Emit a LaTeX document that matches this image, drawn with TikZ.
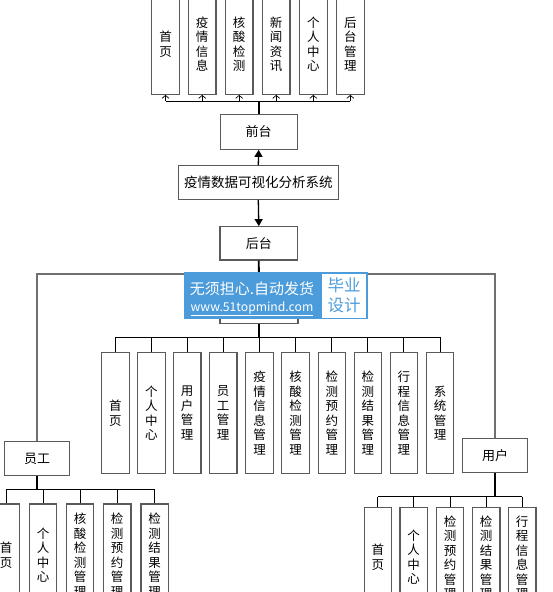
\documentclass[tikz,border=0pt]{standalone}
\usepackage{fontspec}
\newfontfamily\cjk{Noto Sans CJK SC}
\usetikzlibrary{arrows.meta}
\definecolor{boxc}{HTML}{5A5A5A}
\definecolor{outc}{HTML}{707070}
\definecolor{wmblue}{HTML}{4C9CDB}
\begin{document}
\begin{tikzpicture}[x=1pt,y=-1pt,
  box/.style={draw=boxc, line width=1.1pt, fill=white, inner sep=0pt, align=center,
    font=\cjk\fontsize{12.5}{14.5}\selectfont},
  vbox/.style={box, minimum width=27.5pt},
  hbox/.style={box, font=\cjk\fontsize{13}{15}\selectfont},
  conn/.style={draw=black, line width=0.9pt},
  thickconn/.style={draw=black, line width=1.8pt},
  outer/.style={draw=outc, line width=1.4pt},
  uparrow/.style={conn, -{Straight Barb[length=3pt,width=7pt,line width=0.7pt]}},
  mainarrow/.style={draw=black, line width=1.3pt, -{Triangle[length=7pt,width=8pt]}}
]
\useasboundingbox (0,0) rectangle (552,592);

% ---- top row
\node[vbox, minimum height=100.3pt] (t1) at (165.5,44.2) {首\\页};
\node[vbox, minimum height=100.3pt] (t2) at (202.2,44.2) {疫\\情\\信\\息};
\node[vbox, minimum height=100.3pt] (t3) at (239.2,44.2) {核\\酸\\检\\测};
\node[vbox, minimum height=100.3pt] (t4) at (276.2,44.2) {新\\闻\\资\\讯};
\node[vbox, minimum height=100.3pt] (t5) at (313.3,44.2) {个\\人\\中\\心};
\node[vbox, minimum height=100.3pt] (t6) at (350.3,44.2) {后\\台\\管\\理};

\node[hbox, minimum width=77.3pt, minimum height=35pt] (qt) at (258.7,131.8) {前台};
\node[box, font=\cjk\fontsize{13.5}{15}\selectfont, minimum width=160pt, minimum height=33.6pt] (sys) at (258.3,182.5) {疫情数据可视化分析系统};
\node[hbox, minimum width=77.7pt, minimum height=33.3pt] (ht) at (258.8,243.3) {后台};
\node[hbox, minimum width=78pt, minimum height=33.3pt] (admin) at (259,306.7) {};

\coordinate (tb) at (258.7,101);
\draw[thickconn] (qt.north) -- (tb);
\draw[conn] (t1.south |- tb) -- (t6.south |- tb);
\foreach \i in {1,...,6} \draw[uparrow] (t\i.south |- tb) -- (t\i.south);

\draw[mainarrow] (sys.north) -- (qt.south);
\draw[mainarrow] (sys.south) -- (ht.north);

% ---- middle
\foreach \i/\x/\t in {1/115.3/{首\\页},2/151.3/{个\\人\\中\\心},3/187.2/{用\\户\\管\\理},
  4/223.2/{员\\工\\管\\理},5/259.5/{疫\\情\\信\\息\\管\\理},6/295.5/{核\\酸\\检\\测\\管\\理},
  7/331.8/{检\\测\\预\\约\\管\\理},8/367.8/{检\\测\\结\\果\\管\\理},9/403.8/{行\\程\\信\\息\\管\\理},
  10/440/{系\\统\\管\\理}}
  \node[vbox, minimum height=120.6pt] (m\i) at (\x,413) {\t};

\node[hbox, minimum width=64.6pt, minimum height=34pt] (yg) at (37,458.7) {员工};
\node[hbox, minimum width=64.6pt, minimum height=34.4pt] (yh) at (495,455.5) {用户};

\coordinate (oj) at (258.8,274);
\draw[thickconn] (ht.south) -- (admin.north);
\draw[outer] (yg.north) |- (oj) -| (yh.north);

\coordinate (mb) at (259,337);
\draw[thickconn] (admin.south) -- (mb);
\draw[conn] (m1.north |- mb) -- (m10.north |- mb);
\foreach \i in {1,...,10} \draw[conn] (m\i.north |- mb) -- (m\i.north);

% ---- employee children
\foreach \i/\x/\t in {1/6/{首\\页},2/43/{个\\人\\中\\心},3/80/{核\\酸\\检\\测\\管\\理},
  4/117.2/{检\\测\\预\\约\\管\\理},5/154.7/{检\\测\\结\\果\\管\\理}}
  \node[vbox, minimum height=102pt] (e\i) at (\x,555) {\t};
\coordinate (eb) at (37,489);
\draw[thickconn] (yg.south) -- (eb);
\draw[conn] (e1.north |- eb) -- (e5.north |- eb);
\foreach \i in {1,...,5} \draw[conn] (e\i.north |- eb) -- (e\i.north);

% ---- user children
\foreach \i/\x/\t in {1/377.8/{首\\页},2/413.7/{个\\人\\中\\心},3/450/{检\\测\\预\\约\\管\\理},
  4/486.2/{检\\测\\结\\果\\管\\理},5/522.2/{行\\程\\信\\息\\管\\理}}
  \node[vbox, minimum height=99.3pt] (u\i) at (\x,557.3) {\t};
\coordinate (ub) at (495,496.7);
\draw[thickconn] (yh.south) -- (ub);
\draw[conn] (u1.north |- ub) -- (u5.north |- ub);
\foreach \i in {1,...,5} \draw[conn] (u\i.north |- ub) -- (u\i.north);

% ---- watermark
\fill[wmblue] (184.3,272.3) rectangle (320,319);
\draw[wmblue, fill=white, line width=1.5pt] (320.75,273.05) rectangle (367,318.25);
\node[text=white, font=\cjk\fontsize{15}{17}\selectfont, inner sep=0pt] (wm1) at (252,289) {无须担心.自动发货};
\node[text=white, font=\cjk\fontsize{12.2}{14}\selectfont, inner sep=0pt] (wm2) at (252,309) {\underline{www.51topmind.com}};
\node[text=wmblue, font=\cjk\fontsize{16.5}{20}\selectfont, align=center, inner sep=0pt] (wm3) at (344,295.5) {毕业\\设计};
\end{tikzpicture}
\end{document}
